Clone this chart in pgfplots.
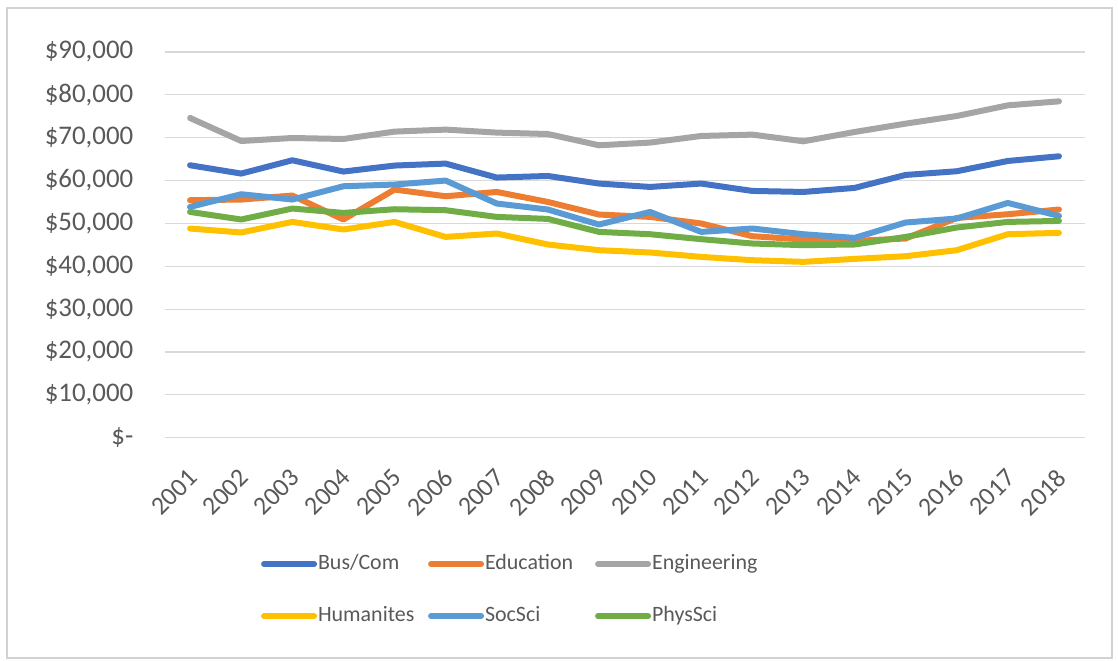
\documentclass[border=0pt]{standalone}
\usepackage{pgfplots}
\pgfplotsset{compat=1.18}
\usepackage{pgfplotstable}
\usepackage{fontspec}
\setmainfont{Carlito}
\definecolor{cBus}{HTML}{4472C4}
\definecolor{cEdu}{HTML}{ED7D31}
\definecolor{cEng}{HTML}{A5A5A5}
\definecolor{cHum}{HTML}{FFC000}
\definecolor{cSoc}{HTML}{5B9BD5}
\definecolor{cPhy}{HTML}{70AD47}
\definecolor{txt}{HTML}{595959}
\definecolor{gridc}{HTML}{D9D9D9}
\pgfplotstableread{
idx bus edu eng hum soc phys
0 63570 55410 74600 48810 53850 52680
1 61630 55570 69230 47880 56810 50910
2 64730 56500 69930 50350 55570 53470
3 62100 50910 69700 48580 58670 52450
4 63500 57900 71420 50350 59070 53310
5 63960 56340 71890 46850 60000 53080
6 60700 57340 71190 47640 54640 51520
7 61070 55010 70860 45080 53240 51050
8 59300 52070 68230 43750 49740 48020
9 58510 51520 68860 43220 52680 47480
10 59300 49980 70400 42190 48020 46320
11 57580 47020 70720 41420 48810 45310
12 57340 46250 69160 41030 47480 44920
13 58280 45920 71330 41720 46620 45080
14 61310 46480 73280 42350 50210 46850
15 62170 51280 75060 43750 51140 49040
16 64570 52140 77550 47480 54780 50350
17 65660 53240 78480 47790 51750 50580
}\datatable
\begin{document}
\begin{tikzpicture}[x=1bp,y=1bp]
\useasboundingbox (0,0) rectangle (1118,661);
\draw[gray!35, line width=1.5bp] (7,3) rectangle (1112,653);
\begin{axis}[
  at={(164.5bp,223.3bp)}, anchor=south west,
  width=920bp, height=385.7bp, scale only axis,
  xmin=-0.5, xmax=17.5, ymin=0, ymax=90000,
  scaled y ticks=false,
  axis line style={draw=none},
  major tick length=0pt,
  ymajorgrids, grid style={gridc, line width=1.2bp},
  ytick={0,10000,...,90000},
  yticklabels={{\$-\hspace{13bp}},{\$10,000},{\$20,000},{\$30,000},{\$40,000},{\$50,000},{\$60,000},{\$70,000},{\$80,000},{\$90,000}},
  yticklabel style={font=\fontsize{27}{32}\selectfont, text=txt, anchor=east, inner sep=0pt, xshift=-31bp},
  xtick={0,...,17},
  xticklabels={2001,2002,2003,2004,2005,2006,2007,2008,2009,2010,2011,2012,2013,2014,2015,2016,2017,2018},
  xticklabel style={font=\fontsize{26}{30}\selectfont, text=txt, xshift=3bp, yshift=-36bp, rotate=45, anchor=east, inner sep=0pt},
  every axis plot/.append style={line width=6bp, line cap=round, line join=round},
  legend image code/.code={\draw[#1, line width=6bp, line cap=round] (0bp,0bp) -- (50bp,0bp);},
  legend columns=3,
  legend style={draw=none, fill=none, font=\fontsize{22}{26}\selectfont, text=txt,
    at={(0.1015,-0.296)}, anchor=north west,
    nodes={inner sep=0pt, text height=15bp, text depth=5bp},
    row sep=32bp,
    /tikz/every odd column/.append style={column sep=1bp}},
]
\addplot[cBus] table[x=idx,y=bus]{\datatable};
\addlegendentry{\makebox[110bp][l]{Bus/Com}}
\addplot[cEdu] table[x=idx,y=edu]{\datatable};
\addlegendentry{\makebox[110bp][l]{Education}}
\addplot[cEng] table[x=idx,y=eng]{\datatable};
\addlegendentry{\makebox[110bp][l]{Engineering}}
\addplot[cHum] table[x=idx,y=hum]{\datatable};
\addlegendentry{\makebox[110bp][l]{Humanites}}
\addplot[cSoc] table[x=idx,y=soc]{\datatable};
\addlegendentry{\makebox[110bp][l]{SocSci}}
\addplot[cPhy] table[x=idx,y=phys]{\datatable};
\addlegendentry{\makebox[110bp][l]{PhysSci}}
\end{axis}
\end{tikzpicture}
\end{document}
